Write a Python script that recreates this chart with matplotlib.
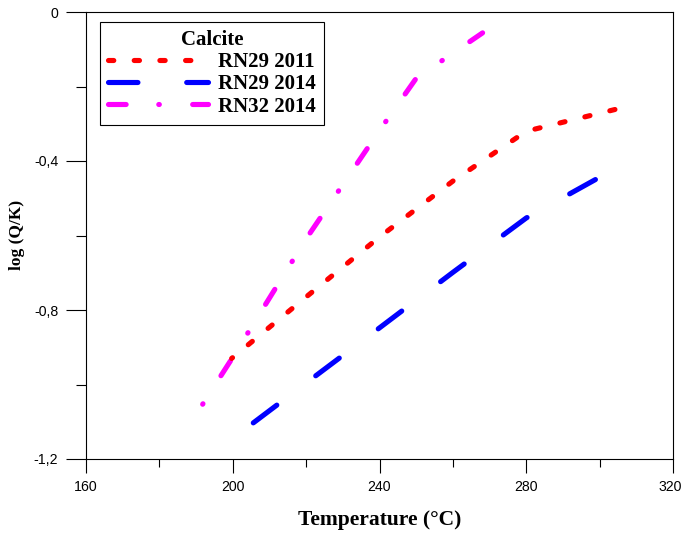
import matplotlib
matplotlib.use("Agg")
import matplotlib.pyplot as plt
from matplotlib.lines import Line2D
from matplotlib.ticker import FixedLocator
import matplotlib.transforms as mtransforms

plt.rcParams['lines.scale_dashes'] = False
plt.rcParams['axes.unicode_minus'] = False

# ---- data ----
t_rn29_2011 = [199.7, 220, 240, 260, 280, 307.4]
v_rn29_2011 = [-0.930, -0.765, -0.604, -0.454, -0.320, -0.254]

t_rn29_2014 = [205.6, 220, 240, 260, 280, 300.1]
v_rn29_2014 = [-1.103, -0.996, -0.848, -0.699, -0.553, -0.443]

t_rn32_2014 = [191.8, 200, 220, 240, 250, 268.1]
v_rn32_2014 = [-1.053, -0.927, -0.609, -0.318, -0.178, -0.056]

series_labels = ["RN29 2011", "RN29 2014", "RN32 2014"]
legend_title = "Calcite"
x_major = [160, 200, 240, 280, 320]
x_major_labels = ["160", "200", "240", "280", "320"]
x_minor = [180, 220, 260, 300]
y_major = [0, -0.4, -0.8, -1.2]
y_major_labels = ["0", "-0,4", "-0,8", "-1,2"]
y_minor = [-0.2, -0.6, -1.0]
x_label = "Temperature (°C)"
y_label = "log (Q/K)"

# ---- styles ----
red_dash = (3.8, 14.7)
blue_dash = (21.2, 35.1)
mag_dash = (12.7, 23.5, 0.4, 24.0)
lw = 3.7

fig = plt.figure(figsize=(6.83, 5.33), dpi=100)
ax = fig.add_axes([86/683, 1 - 459/533, (673-86)/683, (459-12)/533])

serif = ['Liberation Serif', 'DejaVu Serif']
sans = ['Liberation Sans', 'DejaVu Sans']

ax.plot(t_rn32_2014, v_rn32_2014, color='#ff00ff', lw=lw,
        linestyle=(36.2, mag_dash), dash_capstyle='round', zorder=2)
ax.plot(t_rn29_2014, v_rn29_2014, color='#0000ff', lw=lw,
        linestyle=(0, blue_dash), dash_capstyle='round', zorder=3)
ax.plot(t_rn29_2011, v_rn29_2011, color='#ff0000', lw=lw,
        linestyle=(3.0, red_dash), dash_capstyle='round', zorder=4)

ax.set_xlim(160, 320)
ax.set_ylim(-1.2, 0)

ax.xaxis.set_major_locator(FixedLocator(x_major))
ax.xaxis.set_minor_locator(FixedLocator(x_minor))
ax.set_xticklabels(x_major_labels)
ax.yaxis.set_major_locator(FixedLocator(y_major))
ax.yaxis.set_minor_locator(FixedLocator(y_minor))
ax.set_yticklabels(y_major_labels)

ax.tick_params(axis='x', which='major', direction='out', length=10, width=0.8, pad=5.0)
ax.tick_params(axis='x', which='minor', direction='out', length=5.8, width=0.8)
ax.tick_params(axis='y', which='major', direction='out', length=14.4, width=0.8, pad=5.5)
ax.tick_params(axis='y', which='minor', direction='out', length=7.2, width=0.8)
for lab in ax.get_xticklabels() + ax.get_yticklabels():
    lab.set_fontfamily(sans)
    lab.set_fontsize(10.2)

# keep the last x tick label inside the canvas
last = ax.get_xticklabels()[-1]
last.set_transform(last.get_transform() +
                   mtransforms.ScaledTranslation(-3/100, 0, fig.dpi_scale_trans))

for sp in ax.spines.values():
    sp.set_linewidth(0.8)
    sp.set_color('black')

ax.set_xlabel(x_label, fontfamily=serif, fontweight='bold', fontsize=15.5)
ax.set_ylabel(y_label, fontfamily=serif, fontweight='bold', fontsize=12.5)
ax.xaxis.set_label_coords((380-86)/587, (459-510)/447)
ax.yaxis.set_label_coords((25-86)/587, (459-235)/447)

handles = [
    Line2D([], [], color='#ff0000', lw=lw, linestyle=(0, red_dash), dash_capstyle='round'),
    Line2D([], [], color='#0000ff', lw=lw, linestyle=(0, blue_dash), dash_capstyle='round'),
    Line2D([], [], color='#ff00ff', lw=lw, linestyle=(0, mag_dash), dash_capstyle='round'),
]
leg = ax.legend(handles, series_labels, title=legend_title, loc='upper left',
                bbox_to_anchor=((100-86)/587, (459-22)/447), borderaxespad=0,
                prop={'family': serif, 'weight': 'bold', 'size': 15},
                title_fontproperties={'family': serif, 'weight': 'bold', 'size': 15},
                handlelength=4.8, handletextpad=0.45, borderpad=0.4,
                labelspacing=0.1, fancybox=False, framealpha=1,
                edgecolor='black')
leg.get_frame().set_linewidth(0.8)

fig.savefig("out.png", dpi=100)
